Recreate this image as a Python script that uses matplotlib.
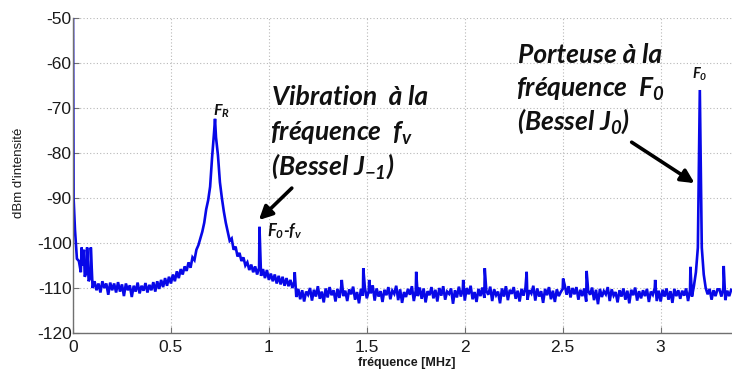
import numpy as np
import matplotlib
matplotlib.use('Agg')
import matplotlib.pyplot as plt

# spectrum level (dBm), one value every 0.01 MHz from 0 to 3.36 MHz
LEVELS = [
    -50, -97, -103.5, -104, -106.5, -105, -107.5, -106.5, -108.5, -107.5,
    -110, -108.5, -110.5, -109, -111, -108.5, -110, -109, -111.5, -108.8,
    -110.5, -109, -111, -108.7, -110.8, -109.2, -111.8, -109, -110.5, -109.4,
    -112, -109.5, -110.8, -108.8, -111.2, -109.5, -110.6, -108.9, -111, -109.3,
    -110.5, -108.7, -110.8, -108.5, -110.2, -108.2, -109.8, -107.8, -109.5, -107.5,
    -109, -107, -108.5, -106.3, -107.8, -105.8, -107, -105.2, -106.2, -104.3,
    -105.5, -103.2, -103.8, -101.5, -100.5, -99, -97.5, -95.5, -92.5, -90.5,
    -87.5, -81, -75.5, -76.5, -80.5, -86.5, -90, -93, -95.5, -97.5,
    -99.5, -99, -101.5, -100.8, -103, -102.2, -104, -103.2, -105, -104.3,
    -106, -104.8, -106.5, -105.2, -107, -105.5, -107.3, -105.8, -107.8, -106,
    -108.2, -106.8, -108.5, -107, -109, -107.3, -109.2, -107.5, -109.5, -107.8,
    -109.6, -108.2, -110, -108.5, -112, -110.2, -112.5, -110.5, -113, -110.8,
    -111.5, -110, -112.8, -110.4, -111.9, -109.6, -112.4, -110.8, -113.2, -110.1,
    -112.1, -109.8, -111.6, -110.5, -113, -110.2, -112.2, -109.5, -111.8, -110.6,
    -112.9, -110.3, -111.4, -109.7, -112.6, -110.9, -113.4, -110.2, -111.7, -109.9,
    -112.3, -110.6, -111.2, -109.4, -112.8, -110.1, -111.9, -110.7, -113.1, -110.4,
    -111.6, -109.8, -112.5, -110.6, -111.3, -109.5, -112.7, -110.3, -113.3, -110.9,
    -112, -110.2, -111.5, -109.6, -112.9, -110.5, -111.8, -109.9, -112.4, -110.1,
    -113.2, -110.7, -111.6, -109.8, -112.3, -110.4, -113, -110, -111.7, -109.6,
    -112.6, -110.8, -111.3, -110.1, -113.5, -110.5, -112.1, -109.7, -111.9, -110.3,
    -112.8, -110, -111.4, -109.5, -112.5, -110.9, -113.1, -110.2, -111.8, -109.9,
    -112.2, -110.6, -111.5, -109.7, -112.9, -110.3, -111.6, -110.8, -113.4, -110.1,
    -111.9, -109.6, -112.7, -110.4, -111.3, -109.8, -112.4, -110.6, -113, -110.2,
    -111.7, -109.9, -112.6, -110.5, -111.2, -109.5, -112.8, -110.1, -111.9, -110.7,
    -113.3, -110.2, -111.6, -109.8, -112.5, -110.6, -113.1, -110.3, -111.8, -110.9,
    -110.2, -109.3, -111.5, -109.6, -112.1, -110, -111.4, -109.8, -112.6, -110.4,
    -111.8, -110.1, -113, -110.6, -111.5, -109.9, -112.7, -110.4, -113.6, -110.2,
    -112, -110.7, -111.4, -109.8, -112.9, -110.3, -111.7, -110.9, -113.2, -110.5,
    -111.9, -110.1, -112.6, -110.6, -113.4, -110.4, -111.6, -109.9, -112.8, -110.7,
    -112.3, -110.5, -111.8, -110.2, -113.1, -110.8, -111.5, -110, -112.9, -110.6,
    -113, -110.4, -111.9, -110.1, -112.6, -110.7, -113.3, -110.2, -111.8, -110.5,
    -112.4, -110.6, -111.7, -110.1, -112.9, -110.4, -111.9, -109.5, -106.5, -101,
    -66, -101, -107, -110, -111.4, -110.2, -112.6, -110.5, -111.8, -110.3,
    -110.3, -111.9, -110.1, -112.7, -110.6, -111.8, -110.4,
]
STEP_MHZ = 0.01

# narrow lines that fall between the 0.01 MHz samples
SPIKE_FREQ = [0.003, 0.044, 0.056, 0.072, 0.091, 0.725, 0.952, 1.132, 1.372, 1.482,
              1.512, 1.752, 1.992, 2.102, 2.316, 2.502, 2.622, 2.972, 3.152, 3.322]
SPIKE_DBM = [-90, -101, -101.5, -101, -101, -72.4, -96.4, -106.5, -108.2, -105.6,
             -108.2, -106.4, -108.2, -105.6, -106.4, -107.9, -106.2, -108.2, -105.3, -105.1]

Y_TICKS = [-120, -110, -100, -90, -80, -70, -60, -50]
X_TICKS = [0, 0.5, 1, 1.5, 2, 2.5, 3]

ANNOT = ['Lato', 'DejaVu Sans']
plt.rcParams['axes.unicode_minus'] = False
plt.rcParams['mathtext.fontset'] = 'custom'
plt.rcParams['mathtext.rm'] = 'Lato:bold:italic'
plt.rcParams['mathtext.it'] = 'Lato:bold:italic'
plt.rcParams['mathtext.bf'] = 'Lato:bold:italic'

freq = np.arange(len(LEVELS)) * STEP_MHZ
f = np.concatenate([freq, SPIKE_FREQ])
lv = np.concatenate([LEVELS, SPIKE_DBM])
order = np.argsort(f, kind='stable')

fig = plt.figure(figsize=(7.32, 3.74), dpi=100)
ax = fig.add_axes([73 / 732, 41 / 374, 666 / 732, 315 / 374])
ax.plot(f[order], lv[order], color='#0808e8', linewidth=1.9, solid_joinstyle='miter')

ax.set_xlim(0, 3.4)
ax.set_ylim(-120, -50)
ax.set_xticks(X_TICKS)
ax.set_xticklabels(['0', '0.5', '1', '1.5', '2', '2.5', '3'])
ax.set_yticks(Y_TICKS)
ax.grid(True, linestyle=(0, (1, 2)), color='#b8b8b8', linewidth=0.8)
for s in ('top', 'right'):
    ax.spines[s].set_visible(False)
for s in ('left', 'bottom'):
    ax.spines[s].set_color('#707070')
    ax.spines[s].set_linewidth(1.0)
ax.tick_params(direction='in', length=4, color='#707070', labelsize=12.5,
               labelcolor='#1a1a1a', pad=1)
ax.tick_params(axis='x', pad=5)
for lab in ax.get_xticklabels() + ax.get_yticklabels():
    lab.set_family('Liberation Sans')

fig.text(19 / 732, 1 - 173 / 374, "dBm d'intensité", rotation=90, ha='center', va='center',
         fontsize=9.5, family='Liberation Sans', color='#1a1a1a')
fig.text(407 / 732, 1 - 363 / 374, 'fréquence [MHz]', ha='center', va='center',
         fontsize=9, family='Liberation Sans', fontweight='bold', color='#1a1a1a')

kw = dict(family=ANNOT, fontweight='bold', style='italic', color='#111111')
big = 19
ax.text(1.015, -69.3, 'Vibration  à la', fontsize=big, **kw)
ax.text(1.008, -77.3, 'fréquence  $f_v$', fontsize=big, **kw)
ax.text(1.012, -84.9, '(Bessel $J_{-1}$)', fontsize=big, **kw)
ax.text(2.27, -60.0, 'Porteuse à la', fontsize=big, **kw)
ax.text(2.262, -67.6, 'fréquence  $F_0$', fontsize=big, **kw)
ax.text(2.268, -74.9, '(Bessel $J_0$)', fontsize=big, **kw)

ax.text(0.758, -71.8, '$F_R$', fontsize=11.5, ha='center', **kw)
ax.text(0.99, -98.6, '$F_0$-$f_v$', fontsize=12, **kw)
ax.text(3.2, -63.4, '$F_0$', fontsize=10.5, ha='center', **kw)

arrow = dict(arrowstyle='-|>', lw=2.6, color='black', mutation_scale=20, shrinkA=0, shrinkB=0)
ax.annotate('', xy=(0.949, -94.9), xytext=(1.117, -87.8), arrowprops=arrow)
ax.annotate('', xy=(3.173, -86.7), xytext=(2.852, -77.6), arrowprops=arrow)

fig.savefig('out.png', dpi=100)
